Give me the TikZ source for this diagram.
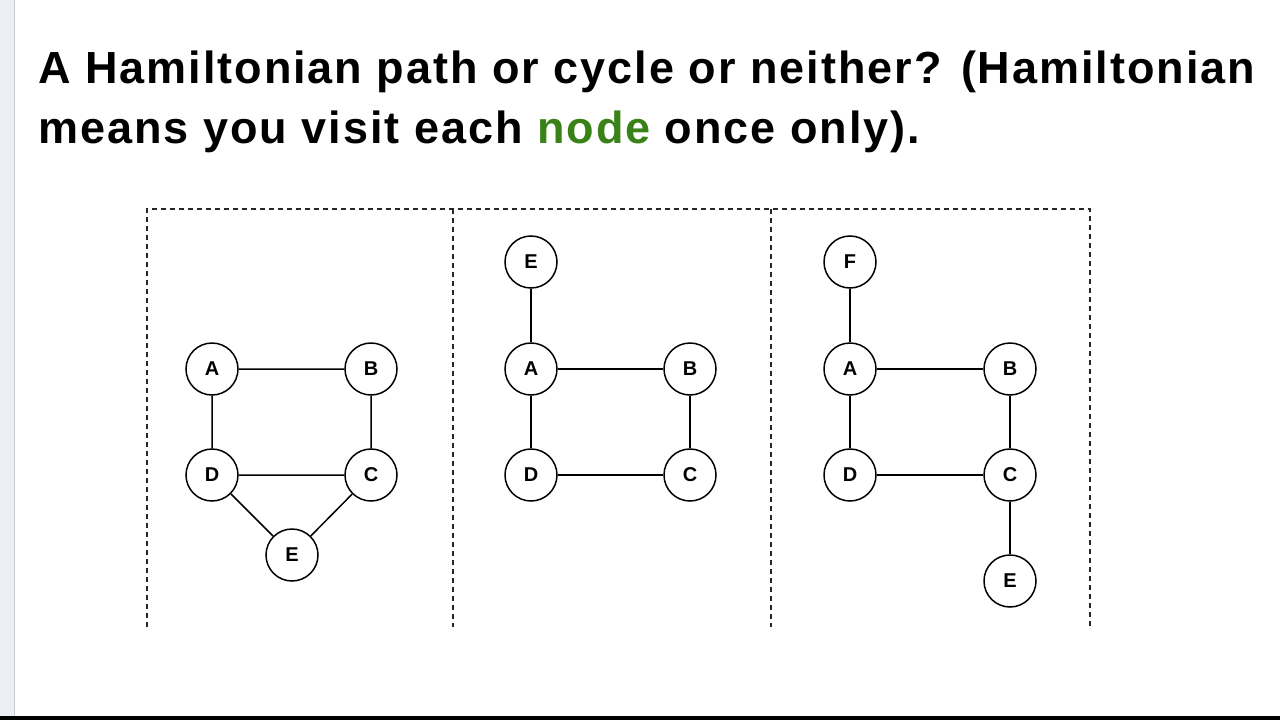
\documentclass[tikz,border=0pt]{standalone}
\usepackage{fontspec}
\setmainfont{Liberation Sans}
\newfontfamily\titlefont[LetterSpace=4.4]{Liberation Sans}
\definecolor{ngreen}{RGB}{56,130,24}
\definecolor{side}{RGB}{236,240,246}
\begin{document}
\begin{tikzpicture}[x=1pt,y=-1pt,
  v/.style={circle,draw,line width=1.5pt,minimum size=52pt,inner sep=0pt,font=\bfseries\fontsize{20}{20}\selectfont},
  e/.style={line width=1.5pt},
  box/.style={line width=1.6pt,dash pattern=on 5pt off 4pt,draw=black!85}]
\useasboundingbox (0,0) rectangle (1280,720);
\fill[white] (0,0) rectangle (1280,720);
\fill[side] (0,0) rectangle (14,720);
\draw[black!20] (14,0) -- (14,716);
\fill[black] (0,716) rectangle (1280,720);
\node[anchor=base west,font=\titlefont\bfseries\fontsize{45}{60}\selectfont,align=left,inner sep=0pt] (t1) at (38,83) {A Hamiltonian path or cycle or neither? (Hamiltonian};
\node[anchor=base west,font=\titlefont\bfseries\fontsize{45}{60}\selectfont,align=left,inner sep=0pt] (t2) at (38,143) {means you visit each \textcolor{ngreen}{node} once only).};
\draw[box] (147,627) -- (147,209) -- (1090,209) -- (1090,627);
\draw[box] (453,209) -- (453,627);
\draw[box] (771,209) -- (771,627);
% graph 1
\node[v] (a1) at (212,369) {A};
\node[v] (b1) at (371,369) {B};
\node[v] (d1) at (212,475) {D};
\node[v] (c1) at (371,475) {C};
\node[v] (e1) at (292,555) {E};
\draw[e] (a1)--(b1) (a1)--(d1) (b1)--(c1) (d1)--(c1) (d1)--(e1) (c1)--(e1);
% graph 2
\node[v] (e2) at (531,262) {E};
\node[v] (a2) at (531,369) {A};
\node[v] (b2) at (690,369) {B};
\node[v] (d2) at (531,475) {D};
\node[v] (c2) at (690,475) {C};
\draw[e] (e2)--(a2) (a2)--(b2) (a2)--(d2) (b2)--(c2) (d2)--(c2);
% graph 3
\node[v] (f3) at (850,262) {F};
\node[v] (a3) at (850,369) {A};
\node[v] (b3) at (1010,369) {B};
\node[v] (d3) at (850,475) {D};
\node[v] (c3) at (1010,475) {C};
\node[v] (e3) at (1010,581) {E};
\draw[e] (f3)--(a3) (a3)--(b3) (a3)--(d3) (b3)--(c3) (d3)--(c3) (c3)--(e3);
\end{tikzpicture}
\end{document}
